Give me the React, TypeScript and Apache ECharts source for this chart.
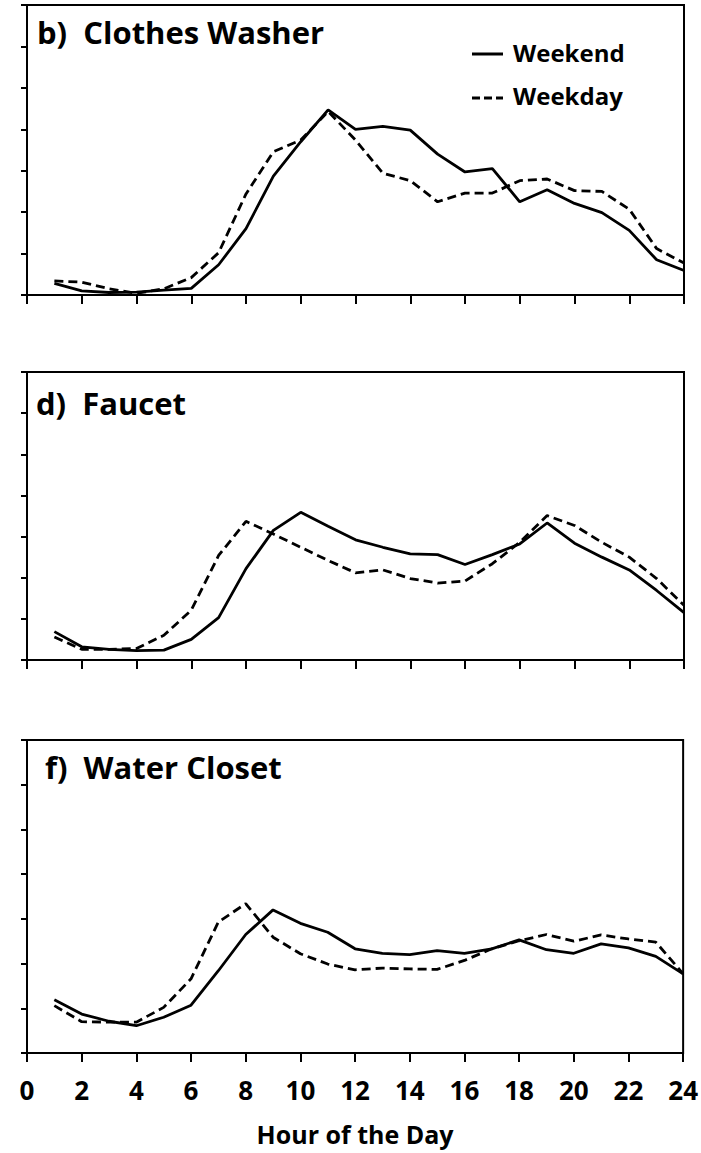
import React, { useEffect, useRef } from "react";
import * as echarts from "echarts";

const hours = [1, 2, 3, 4, 5, 6, 7, 8, 9, 10, 11, 12, 13, 14, 15, 16, 17, 18, 19, 20, 21, 22, 23, 24];
const xTicks = [0, 2, 4, 6, 8, 10, 12, 14, 16, 18, 20, 22, 24];

const washerWeekend = [0.28, 0.1, 0.06, 0.07, 0.12, 0.16, 0.73, 1.6, 2.87, 3.7, 4.47, 4.0, 4.07, 3.98, 3.4, 2.97, 3.05, 2.25, 2.54, 2.21, 1.99, 1.56, 0.85, 0.59];
const washerWeekday = [0.34, 0.31, 0.15, 0.04, 0.15, 0.42, 1.02, 2.44, 3.46, 3.74, 4.43, 3.74, 2.94, 2.76, 2.25, 2.46, 2.46, 2.76, 2.8, 2.52, 2.5, 2.07, 1.12, 0.77];

const faucetWeekend = [0.69, 0.32, 0.26, 0.23, 0.24, 0.5, 1.03, 2.22, 3.15, 3.59, 3.25, 2.92, 2.74, 2.58, 2.56, 2.32, 2.56, 2.82, 3.33, 2.84, 2.5, 2.19, 1.69, 1.15];
const faucetWeekday = [0.56, 0.26, 0.26, 0.28, 0.6, 1.21, 2.54, 3.37, 3.06, 2.74, 2.42, 2.12, 2.19, 1.98, 1.87, 1.92, 2.34, 2.86, 3.51, 3.27, 2.86, 2.5, 1.98, 1.33];

const closetWeekend = [1.19, 0.87, 0.71, 0.61, 0.8, 1.07, 1.84, 2.65, 3.2, 2.9, 2.7, 2.33, 2.23, 2.2, 2.29, 2.23, 2.33, 2.53, 2.31, 2.23, 2.44, 2.35, 2.16, 1.77];
const closetWeekday = [1.06, 0.7, 0.69, 0.69, 1.02, 1.66, 2.93, 3.34, 2.59, 2.22, 1.99, 1.86, 1.9, 1.88, 1.87, 2.07, 2.33, 2.51, 2.65, 2.5, 2.64, 2.55, 2.48, 1.77];

const panelTitles = ["b)  Clothes Washer", "d)  Faucet", "f)  Water Closet"];
const seriesNames = ["Weekend", "Weekday"];
const xAxisName = "Hour of the Day";

const FONT = "'Open Sans', sans-serif";

export default function App() {
  const ref = useRef<HTMLDivElement>(null);
  useEffect(() => {
    if (!ref.current) return;
    const chart = echarts.init(ref.current, null, { renderer: "svg" });
    const grids = [
      { left: 27, top: 5, width: 657, height: 290 },
      { left: 27, top: 372, width: 657, height: 288 },
      { left: 27, top: 740, width: 657, height: 313 },
    ];
    const panels = [
      [washerWeekend, washerWeekday],
      [faucetWeekend, faucetWeekday],
      [closetWeekend, closetWeekday],
    ];
    const titleTops = [16, 387, 751];
    const titleLefts = [37, 36, 45];
    const series: any[] = [];
    panels.forEach((p, i) => {
      p.forEach((vals, j) => {
        series.push({
          type: "line",
          name: seriesNames[j],
          xAxisIndex: i,
          yAxisIndex: i,
          showSymbol: false,
          symbol: "none",
          data: hours.map((h, k) => [h, vals[k]]),
          lineStyle: { color: "#000", width: 2.8, type: j === 0 ? "solid" : [9, 5] },
        });
      });
    });
    chart.setOption({
      animation: false,
      backgroundColor: "#fff",
      title: panelTitles.map((t, i) => ({
        text: t,
        left: titleLefts[i],
        top: titleTops[i],
        padding: 0,
        textStyle: { fontFamily: FONT, fontWeight: "bold", fontSize: 31, color: "#000" },
      })),
      grid: grids.map((g) => ({ ...g, show: true, borderColor: "#000", borderWidth: 2, backgroundColor: "transparent" })),
      xAxis: grids.map((_, i) => ({
        gridIndex: i,
        type: "value",
        min: xTicks[0],
        max: xTicks[xTicks.length - 1],
        interval: 2,
        axisLine: { show: true, onZero: false, lineStyle: { color: "#000", width: 2 } },
        axisTick: { show: true, inside: false, length: 9, lineStyle: { color: "#000", width: 2 } },
        axisLabel: {
          show: i === 2,
          margin: 24,
          fontFamily: FONT,
          fontWeight: "bold",
          fontSize: 26,
          color: "#000",
        },
        splitLine: { show: false },
        name: i === 2 ? xAxisName : "",
        nameLocation: "middle",
        nameGap: 68,
        nameTextStyle: { fontFamily: FONT, fontWeight: "bold", fontSize: 25, color: "#000" },
      })),
      yAxis: grids.map((_, i) => ({
        gridIndex: i,
        type: "value",
        min: 0,
        max: 7,
        interval: 1,
        axisLine: { show: true, lineStyle: { color: "#000", width: 2 } },
        axisTick: { show: true, inside: false, length: 6, lineStyle: { color: "#000", width: 2 } },
        axisLabel: { show: false },
        splitLine: { show: false },
      })),
      graphic: [
        { type: "line", shape: { x1: 472, y1: 54, x2: 503, y2: 54 }, style: { stroke: "#000", lineWidth: 3 } },
        { type: "line", shape: { x1: 472, y1: 98, x2: 503, y2: 98 }, style: { stroke: "#000", lineWidth: 3, lineDash: [8, 4] } },
        { type: "text", x: 513, y: 52, style: { text: seriesNames[0], font: `bold 24px ${FONT}`, fill: "#000", verticalAlign: "middle" } },
        { type: "text", x: 513, y: 95, style: { text: seriesNames[1], font: `bold 24px ${FONT}`, fill: "#000", verticalAlign: "middle" } },
      ],
      series,
    });
    return () => chart.dispose();
  }, []);
  return <div ref={ref} style={{ position: "absolute", left: 0, top: 0, width: 701, height: 1153 }} />;
}
